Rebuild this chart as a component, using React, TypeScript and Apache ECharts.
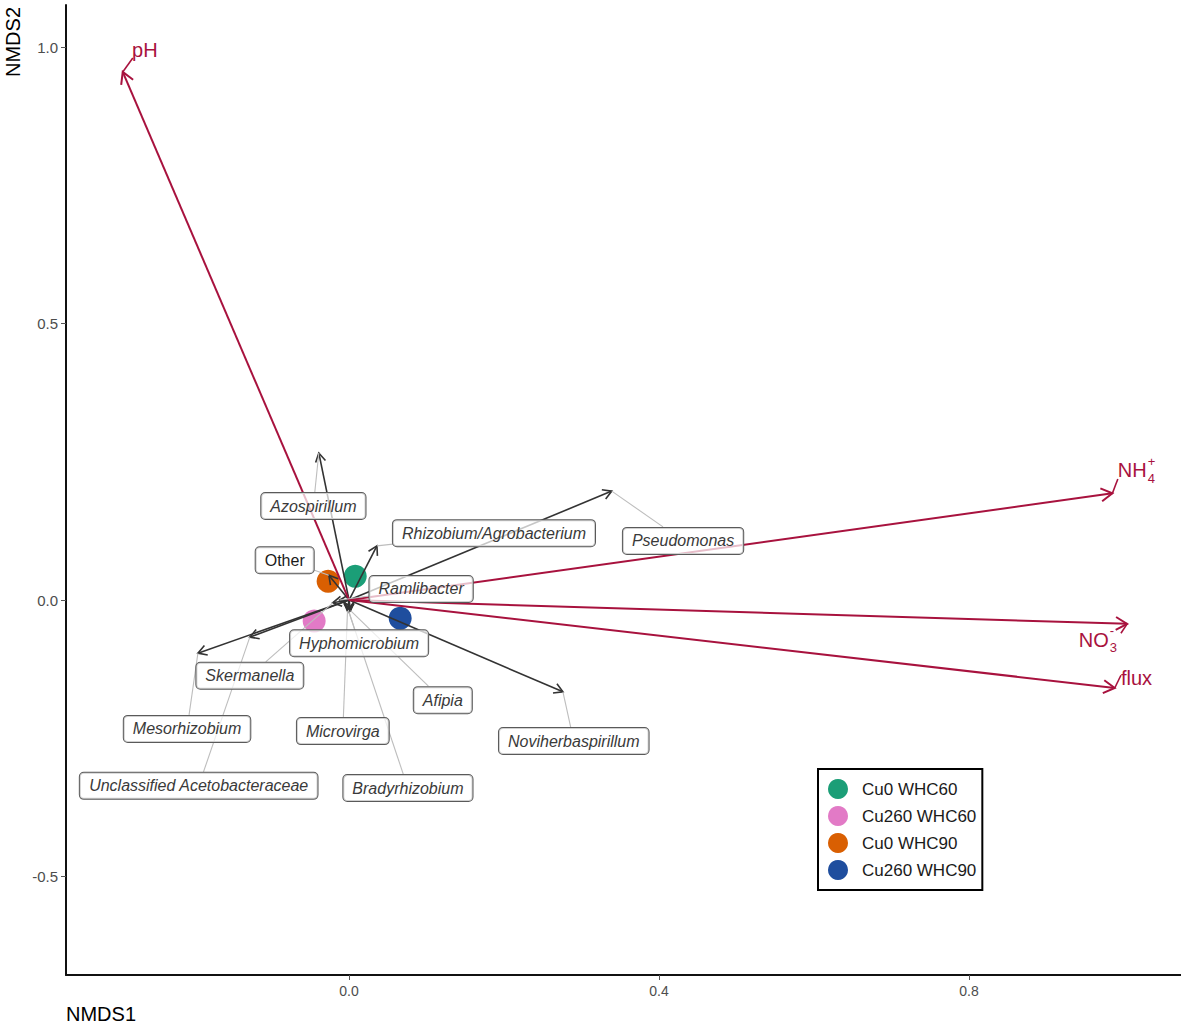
import React, { useEffect, useRef } from "react";
import * as echarts from "echarts";

// ---------------- data ----------------
const xTicks = [0, 0.4, 0.8];
const yTicks = [-0.5, 0, 0.5, 1.0];
const xRange = [-0.3652, 1.0735];
const yRange = [-0.678, 1.076];

const sampleGroups = ["Cu0 WHC60", "Cu260 WHC60", "Cu0 WHC90", "Cu260 WHC90"];
const sampleX = [0.008, -0.045, -0.027, 0.066];
const sampleY = [0.043, -0.038, 0.034, -0.033];
const sampleColors = ["#1B9E77", "#E27AC6", "#D95F02", "#1F4E9E"];

const envMain = ["pH", "NH", "NO", "flux"];
const envSub = ["", "4", "3", ""];
const envSup = ["", "+", "-", ""];
const envX = [-0.292, 0.985, 1.004, 0.988];
const envY = [0.955, 0.193, -0.043, -0.159];
const envStubX = [-0.279, 0.992, 0.996, 0.996];
const envStubY = [0.98, 0.219, -0.06, -0.136];
const envTextX = [-0.28, 0.992, 0.991, 0.996];
const envTextY = [0.995, 0.235, -0.072, -0.141];
const envTextAnchor = ["left", "left", "right", "left"];

const taxa = [
  "Azospirillum",
  "Rhizobium/Agrobacterium",
  "Pseudomonas",
  "Other",
  "Ramlibacter",
  "Hyphomicrobium",
  "Skermanella",
  "Mesorhizobium",
  "Unclassified Acetobacteraceae",
  "Microvirga",
  "Bradyrhizobium",
  "Afipia",
  "Noviherbaspirillum",
];
const taxaX = [-0.039, 0.036, 0.339, -0.026, -0.012, -0.001, -0.021, -0.195, -0.128, -0.002, 0.0, 0.002, 0.276];
const taxaY = [0.266, 0.098, 0.197, 0.045, 0.0, -0.018, -0.005, -0.096, -0.067, -0.02, -0.022, -0.019, -0.166];
const taxaLabelX = [-0.046, 0.187, 0.431, -0.083, 0.093, 0.013, -0.128, -0.209, -0.194, -0.008, 0.076, 0.121, 0.29];
const taxaLabelY = [0.17, 0.121, 0.107, 0.072, 0.02, -0.078, -0.137, -0.233, -0.336, -0.237, -0.34, -0.181, -0.255];
const taxaItalic = [true, true, true, false, true, true, true, true, true, true, true, true, true];

// ---------------- style ----------------
const FONT = "'Liberation Sans', Arial, Helvetica, sans-serif";
const RED = "#A8123E";
const DARK = "#333333";
const LABEL_PAD_X = 9;
const LABEL_HALF_H = 14;

let measureCtx: CanvasRenderingContext2D | null = null;
function textWidth(text: string, font: string): number {
  if (!measureCtx) measureCtx = document.createElement("canvas").getContext("2d");
  if (!measureCtx) return text.length * 8;
  measureCtx.font = font;
  return measureCtx.measureText(text).width;
}

function arrowParts(o: number[], t: number[], color: string, width: number, head: number): any[] {
  const dx = t[0] - o[0];
  const dy = t[1] - o[1];
  const L = Math.hypot(dx, dy) || 1;
  const ux = dx / L;
  const uy = dy / L;
  const a = Math.PI / 6;
  const c = Math.cos(a);
  const s = Math.sin(a);
  const p1 = [t[0] - head * (ux * c - uy * s), t[1] - head * (ux * s + uy * c)];
  const p2 = [t[0] - head * (ux * c + uy * s), t[1] - head * (-ux * s + uy * c)];
  return [
    { type: "line", shape: { x1: o[0], y1: o[1], x2: t[0], y2: t[1] }, style: { stroke: color, lineWidth: width } },
    { type: "polyline", shape: { points: [p1, t, p2] }, style: { stroke: color, lineWidth: width, fill: null } },
  ];
}

function txt(text: string, x: number, y: number, font: string, fill: string, align: string, extra: any = {}) {
  return {
    type: "text",
    x,
    y,
    style: {
      text,
      font,
      fill,
      align,
      textAlign: align,
      verticalAlign: "middle",
      textVerticalAlign: "middle",
      ...extra,
    },
  };
}

function labelFont(i: number) {
  return `${taxaItalic[i] ? "italic " : ""}16px ${FONT}`;
}

export default function App() {
  const ref = useRef<HTMLDivElement>(null);

  useEffect(() => {
    if (!ref.current) return;
    const chart = echarts.init(ref.current, undefined, { renderer: "svg" });

    const taxaData = taxa.map((_, i) => [taxaX[i], taxaY[i], taxaLabelX[i], taxaLabelY[i]]);
    const envData = envMain.map((_, i) => [envX[i], envY[i], envStubX[i], envStubY[i], envTextX[i], envTextY[i]]);

    const option: any = {
      animation: false,
      backgroundColor: "#ffffff",
      grid: { left: 66, right: 0, top: 5, bottom: 49, containLabel: false, outerBoundsMode: "none" },
      xAxis: {
        type: "value",
        min: xRange[0],
        max: xRange[1],
        splitLine: { show: false },
        axisLine: { show: true, onZero: false, lineStyle: { color: "#111", width: 2 } },
        axisTick: { show: true, length: 5, customValues: xTicks, lineStyle: { color: "#555", width: 1 } },
        axisLabel: {
          show: true,
          customValues: xTicks,
          margin: 9,
          color: "#4D4D4D",
          fontSize: 14,
          fontFamily: FONT,
          formatter: (v: number) => v.toFixed(1),
        },
      },
      yAxis: {
        type: "value",
        min: yRange[0],
        max: yRange[1],
        splitLine: { show: false },
        axisLine: { show: true, onZero: false, lineStyle: { color: "#111", width: 2 } },
        axisTick: { show: true, length: 5, customValues: yTicks, lineStyle: { color: "#555", width: 1 } },
        axisLabel: {
          show: true,
          customValues: yTicks,
          margin: 8,
          color: "#4D4D4D",
          fontSize: 15,
          fontFamily: FONT,
          formatter: (v: number) => v.toFixed(1),
        },
      },
      legend: {
        orient: "vertical",
        left: 818,
        top: 769,
        data: sampleGroups,
        icon: "circle",
        itemWidth: 20,
        itemHeight: 20,
        itemGap: 7,
        padding: [10, 6, 10, 10],
        backgroundColor: "#ffffff",
        borderColor: "#000000",
        borderWidth: 2,
        textStyle: { fontSize: 17, color: "#1a1a1a", fontFamily: FONT, padding: [0, 0, 0, 9] },
      },
      graphic: [
        txt("NMDS1", 66, 1014, `20px ${FONT}`, "#000", "left"),
        {
          type: "text",
          x: 13,
          y: 42,
          rotation: Math.PI / 2,
          style: {
            text: "NMDS2",
            font: `20px ${FONT}`,
            fill: "#000",
            align: "center",
            textAlign: "center",
            verticalAlign: "middle",
            textVerticalAlign: "middle",
          },
        },
      ],
      series: [
        ...sampleGroups.map((g, i) => ({
          name: g,
          type: "scatter",
          z: 2,
          symbol: "circle",
          symbolSize: 23,
          itemStyle: { color: sampleColors[i], opacity: 1 },
          data: [[sampleX[i], sampleY[i]]],
        })),
        {
          name: "taxaArrows",
          type: "custom",
          z: 3,
          silent: true,
          encode: { x: 0, y: 1 },
          data: taxaData,
          renderItem: (params: any, api: any) => {
            const o = api.coord([0, 0]);
            const t = api.coord([api.value(0), api.value(1)]);
            return { type: "group", children: arrowParts(o, t, DARK, 1.6, 10) };
          },
        },
        {
          name: "envArrows",
          type: "custom",
          z: 4,
          silent: true,
          encode: { x: 0, y: 1 },
          data: envData,
          renderItem: (params: any, api: any) => {
            const i = params.dataIndex;
            const o = api.coord([0, 0]);
            const t = api.coord([api.value(0), api.value(1)]);
            const st = api.coord([api.value(2), api.value(3)]);
            const tp = api.coord([api.value(4), api.value(5)]);
            const children: any[] = arrowParts(o, t, RED, 2, 13);
            children.push({
              type: "line",
              shape: { x1: t[0], y1: t[1], x2: st[0], y2: st[1] },
              style: { stroke: RED, lineWidth: 1.6 },
            });
            const mainFont = `20px ${FONT}`;
            const smallFont = `13px ${FONT}`;
            const mw = textWidth(envMain[i], mainFont);
            const hasScript = !!(envSub[i] || envSup[i]);
            const sw = hasScript ? Math.max(textWidth(envSub[i], smallFont), textWidth(envSup[i], smallFont)) + 1 : 0;
            const left = envTextAnchor[i] === "right" ? tp[0] - mw - sw : tp[0];
            children.push(txt(envMain[i], left, tp[1], mainFont, RED, "left"));
            if (envSub[i]) children.push(txt(envSub[i], left + mw + 1, tp[1] + 8, smallFont, RED, "left"));
            if (envSup[i]) children.push(txt(envSup[i], left + mw + 1, tp[1] - 9, smallFont, RED, "left"));
            return { type: "group", children };
          },
        },
        {
          name: "labelSegments",
          type: "custom",
          z: 5,
          silent: true,
          encode: { x: 0, y: 1 },
          data: taxaData,
          renderItem: (params: any, api: any) => {
            const i = params.dataIndex;
            const t = api.coord([api.value(0), api.value(1)]);
            const c = api.coord([api.value(2), api.value(3)]);
            const hw = textWidth(taxa[i], labelFont(i)) / 2 + LABEL_PAD_X;
            const dx = t[0] - c[0];
            const dy = t[1] - c[1];
            const sx = dx !== 0 ? hw / Math.abs(dx) : Infinity;
            const sy = dy !== 0 ? LABEL_HALF_H / Math.abs(dy) : Infinity;
            const s = Math.min(sx, sy);
            if (s >= 1) return { type: "group", children: [] };
            const e = [c[0] + dx * s, c[1] + dy * s];
            if (Math.hypot(t[0] - e[0], t[1] - e[1]) < 4) return { type: "group", children: [] };
            return {
              type: "line",
              shape: { x1: t[0], y1: t[1], x2: e[0], y2: e[1] },
              style: { stroke: "#BDBDBD", lineWidth: 1.1 },
            };
          },
        },
        {
          name: "labels",
          type: "custom",
          z: 6,
          silent: true,
          encode: { x: 2, y: 3 },
          data: taxaData,
          renderItem: (params: any, api: any) => {
            const i = params.dataIndex;
            const c = api.coord([api.value(2), api.value(3)]);
            return txt(taxa[i], c[0], c[1], labelFont(i), taxaItalic[i] ? "#3A3A3A" : "#1A1A1A", "center", {
              backgroundColor: "rgba(255,255,255,0.72)",
              borderColor: "#5A5A5A",
              borderWidth: 1,
              borderRadius: 4,
              padding: [5, LABEL_PAD_X],
            });
          },
        },
      ],
    };

    chart.setOption(option);
    return () => {
      chart.dispose();
    };
  }, []);

  return (
    <div
      ref={ref}
      style={{ position: "fixed", left: 0, top: 0, width: 1181, height: 1024, background: "#fff" }}
    />
  );
}
